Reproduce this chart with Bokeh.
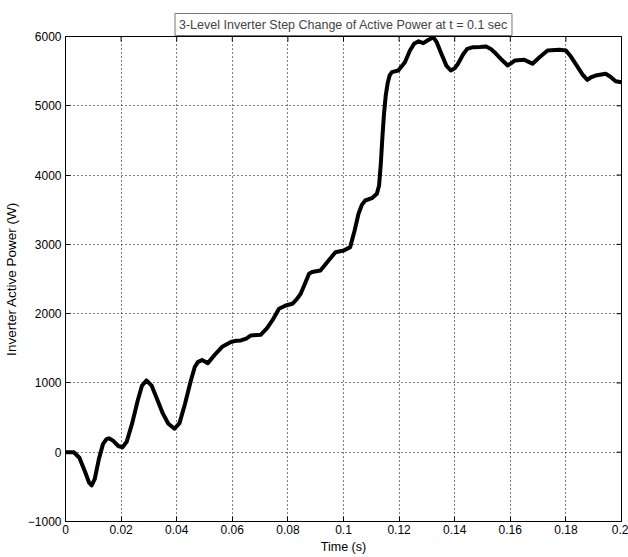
import math
from bokeh.plotting import figure
from bokeh.models import LinearAxis, FixedTicker, Range1d, ColumnDataSource
from bokeh.embed import file_html
from bokeh.resources import INLINE

# Inverter active power response (time in s, power in W)
time_s = [0.0, 0.0030, 0.0050, 0.0070, 0.0085, 0.0094, 0.0105, 0.0120, 0.0135,
          0.0148, 0.0156, 0.0170, 0.0190, 0.0205, 0.0220, 0.0240, 0.0260,
          0.0275, 0.0291, 0.0310, 0.0330, 0.0350, 0.0370, 0.0392, 0.0410,
          0.0430, 0.0450, 0.0465, 0.0476, 0.0491, 0.0512, 0.0540, 0.0565,
          0.0595, 0.0615, 0.0631, 0.0650, 0.0667, 0.0702, 0.0725, 0.0744,
          0.0768, 0.0792, 0.0816, 0.0832, 0.0846, 0.0862, 0.0876, 0.0887,
          0.0917, 0.0945, 0.0971, 0.1001, 0.1024, 0.1040, 0.1054, 0.1066,
          0.1078, 0.1102, 0.1120, 0.1128, 0.1134, 0.1140, 0.1146, 0.1152,
          0.1159, 0.1166, 0.1174, 0.1197, 0.1221, 0.1239, 0.1255, 0.1270,
          0.1287, 0.1305, 0.1323, 0.1335, 0.1352, 0.1370, 0.1386, 0.1400,
          0.1412, 0.1430, 0.1445, 0.1466, 0.1490, 0.1513, 0.1530, 0.1543,
          0.1570, 0.1591, 0.1605, 0.1617, 0.1650, 0.1668, 0.1680, 0.1705,
          0.1734, 0.1776, 0.1800, 0.1818, 0.1835, 0.1860, 0.1877, 0.1892,
          0.1907, 0.1943, 0.1960, 0.1979, 0.2000]
power_w = [0, 0, -80, -280, -440, -480, -390, -100, 120,
           190, 200, 170, 90, 70, 150, 420, 750,
           960, 1036, 960, 760, 560, 410, 339, 420,
           700, 1020, 1230, 1300, 1330, 1286, 1420, 1527,
           1590, 1610, 1613, 1640, 1686, 1695, 1790, 1902,
           2071, 2118, 2142, 2210, 2287, 2440, 2576, 2600,
           2623, 2760, 2887, 2911, 2960, 3200, 3441, 3570,
           3633, 3667, 3730, 3850, 4150, 4550, 4900, 5150,
           5330, 5440, 5485, 5509, 5629, 5798, 5900, 5930,
           5904, 5950, 5990, 5920, 5750, 5580, 5509, 5540,
           5606, 5740, 5822, 5846, 5850, 5856, 5820, 5774,
           5660, 5582, 5620, 5654, 5664, 5630, 5606, 5700,
           5798, 5808, 5798, 5710, 5606, 5450, 5375, 5415,
           5437, 5462, 5420, 5355, 5341]

x_ticks = [0, 0.02, 0.04, 0.06, 0.08, 0.1, 0.12, 0.14, 0.16, 0.18, 0.2]
y_ticks = [-1000, 0, 1000, 2000, 3000, 4000, 5000, 6000]
x_tick_labels = {0: "0", 0.02: "0.02", 0.04: "0.04", 0.06: "0.06", 0.08: "0.08",
                 0.1: "0.1", 0.12: "0.12", 0.14: "0.14", 0.16: "0.16",
                 0.18: "0.18", 0.2: "0.2"}

FONT = "Liberation Sans"
X_MIN, X_MAX = 0, 0.2
Y_MIN, Y_MAX = -1000, 6000

p = figure(width=628, height=557, output_backend="svg", toolbar_location=None,
           x_range=Range1d(X_MIN, X_MAX), y_range=Range1d(Y_MIN, Y_MAX),
           min_border_left=62, min_border_right=7, min_border_top=36,
           min_border_bottom=36, x_axis_location=None, y_axis_location=None)
p.background_fill_color = "white"
p.border_fill_color = "white"
p.outline_line_color = "black"
p.outline_line_width = 1

# Title in a framed box
p.title.text = "3-Level Inverter Step Change of Active Power at t = 0.1 sec"
p.title.align = "center"
p.title.text_font = FONT
p.title.text_font_size = "12.5px"
p.title.text_font_style = "normal"
p.title.border_line_color = "#777777"
p.title.background_fill_color = "white"
p.title.padding = 4
p.title.offset = 0
p.title.standoff = 2

xt = FixedTicker(ticks=x_ticks)
yt = FixedTicker(ticks=y_ticks)

def style_axis(ax, ticker):
    ax.ticker = ticker
    ax.major_tick_in = 5
    ax.major_tick_out = 0
    ax.minor_tick_in = 0
    ax.minor_tick_out = 0
    ax.axis_line_color = "black"
    ax.major_tick_line_color = "black"
    ax.major_label_text_font = FONT
    ax.major_label_text_font_size = "12px"
    ax.major_label_text_color = "black"
    ax.axis_label_text_font = FONT
    ax.axis_label_text_font_style = "normal"
    ax.axis_label_text_color = "black"

bottom = LinearAxis(axis_label="Time (s)")
style_axis(bottom, xt)
bottom.major_label_overrides = x_tick_labels
bottom.major_label_standoff = 3
bottom.axis_label_standoff = 3
bottom.axis_label_text_font_size = "12.5px"
p.add_layout(bottom, "below")

left = LinearAxis(axis_label="Inverter Active Power (W)")
style_axis(left, yt)
left.major_label_standoff = 4
left.axis_label_standoff = 6
left.axis_label_text_font_size = "13.5px"
p.add_layout(left, "left")

# Inward tick marks on the top and right edges of the box
p.scatter(x=x_ticks, y=[Y_MAX] * len(x_ticks), marker="dash", size=10,
          angle=math.pi / 2, line_color="black", line_width=1)
p.scatter(x=[X_MAX] * len(y_ticks), y=y_ticks, marker="dash", size=10,
          line_color="black", line_width=1)

p.xgrid.ticker = xt
p.ygrid.ticker = yt
for g in (p.xgrid, p.ygrid):
    g.grid_line_color = "black"
    g.grid_line_dash = "1 3"
    g.grid_line_width = 1

src = ColumnDataSource(data=dict(t=time_s, pw=power_w))
p.line("t", "pw", source=src, line_color="black", line_width=4,
       line_join="round", line_cap="round")

open("out.html", "w").write(file_html(p, INLINE))
